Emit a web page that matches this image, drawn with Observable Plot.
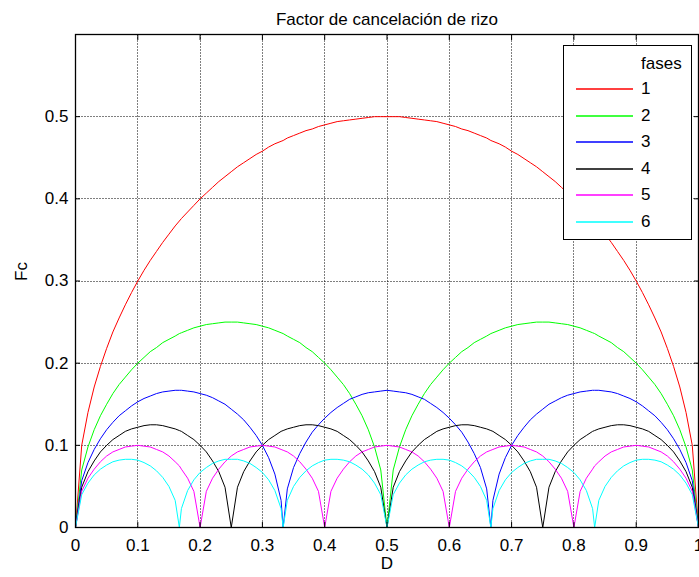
<!DOCTYPE html>
<html><head><meta charset="utf-8">
<script src="https://cdn.jsdelivr.net/npm/d3@7"></script>
<script src="https://cdn.jsdelivr.net/npm/@observablehq/plot@0.6"></script>
<style>
body{margin:0;background:#fff;}
#wrap{position:relative;width:699px;height:577px;overflow:hidden;font-family:"Liberation Sans",Arial,sans-serif;}
#legend{position:absolute;left:563px;top:45px;width:127px;height:193px;border:1.3px solid #000;background:#fff;font-size:17px;color:#000;}
#legend .ttl{position:absolute;left:77px;top:8px;line-height:20px;}
#legend .row{position:absolute;left:0;height:20px;line-height:20px;width:127px;}
#legend .row svg{position:absolute;left:12px;top:5px;}
#legend .row .lb{position:absolute;left:77px;top:0;}
.crisp path, .crisp line{shape-rendering:crispEdges;}
</style>
</head><body>
<div id="wrap"></div>
<script>
const title = "Factor de cancelación de rizo";
const xLabel = "D";
const yLabel = "Fc";
const legendTitle = "fases";
const phases = ["1","2","3","4","5","6"];
const colors = ["#ff0000","#00ff00","#0000ff","#000000","#ff00ff","#00ffff"];
const xTicks = [0,0.1,0.2,0.3,0.4,0.5,0.6,0.7,0.8,0.9,1];
const yTicks = [0,0.1,0.2,0.3,0.4,0.5];

const D = [0,.01,.02,.03,.04,.05,.06,.07,.08,.09,.10,.11,.12,.13,.14,.15,.16,.1667,.17,.18,.19,.20,.21,.22,.23,.24,.25,.26,.27,.28,.29,.30,.31,.32,.33,.3333,.34,.35,.36,.37,.38,.39,.40,.41,.42,.43,.44,.45,.46,.47,.48,.49,.50,.51,.52,.53,.54,.55,.56,.57,.58,.59,.60,.61,.62,.63,.64,.65,.66,.6667,.67,.68,.69,.70,.71,.72,.73,.74,.75,.76,.77,.78,.79,.80,.81,.82,.83,.8333,.84,.85,.86,.87,.88,.89,.90,.91,.92,.93,.94,.95,.96,.97,.98,.99,1];

const fc1 = [0,.100,.140,.171,.196,.218,.238,.255,.271,.286,.300,.313,.325,.336,.347,.357,.367,.373,
.376,.384,.392,.400,.407,.414,.421,.427,.433,.439,.444,.449,.454,.458,.463,.467,.470,.471,
.474,.477,.480,.483,.485,.488,.490,.492,.494,.495,.496,.497,.498,.499,.500,.500,.500,.500,.500,.499,.498,.497,.496,.495,.494,.492,.490,.488,.485,.483,.480,.477,.474,.471,
.470,.467,.463,.458,.454,.449,.444,.439,.433,.427,.421,.414,.407,.400,.392,.384,.376,.373,
.367,.357,.347,.336,.325,.313,.300,.286,.271,.255,.238,.218,.196,.171,.140,.100,0];

const fc2 = [0,.070,.098,.119,.136,.150,.163,.174,.183,.192,.200,.207,.214,.219,.225,.229,.233,.236,
.237,.240,.243,.245,.247,.248,.249,.250,.250,.250,.249,.248,.247,.245,.243,.240,.237,.236,
.233,.229,.225,.219,.214,.207,.200,.192,.183,.174,.163,.150,.136,.119,.098,.070,0,.070,.098,.119,.136,.150,.163,.174,.183,.192,.200,.207,.214,.219,.225,.229,.233,.236,
.237,.240,.243,.245,.247,.248,.249,.250,.250,.250,.249,.248,.247,.245,.243,.240,.237,.236,
.233,.229,.225,.219,.214,.207,.200,.192,.183,.174,.163,.150,.136,.119,.098,.070,0];

const fc3 = [0,.057,.079,.095,.108,.119,.128,.136,.142,.148,.153,.157,.160,.163,.165,.166,.167,.167,
.167,.166,.165,.163,.161,.158,.154,.150,.144,.138,.131,.122,.112,.100,.085,.065,.033,0,
.047,.073,.090,.104,.116,.125,.133,.140,.146,.151,.156,.159,.162,.164,.165,.166,.167,.166,.165,.164,.162,.159,.156,.151,.146,.140,.133,.125,.116,.104,.090,.073,.047,0,
.033,.065,.085,.100,.112,.122,.131,.138,.144,.150,.154,.158,.161,.163,.165,.166,.167,.167,
.167,.166,.165,.163,.160,.157,.153,.148,.142,.136,.128,.119,.108,.095,.079,.057,0];

const fc4 = [0,.049,.068,.081,.092,.100,.107,.112,.117,.120,.122,.124,.125,.125,.124,.122,.120,.118,
.117,.112,.107,.100,.092,.081,.068,.049,0,.049,.068,.081,.092,.100,.107,.112,.117,.118,
.120,.122,.124,.125,.125,.124,.122,.120,.117,.112,.107,.100,.092,.081,.068,.049,0,.049,.068,.081,.092,.100,.107,.112,.117,.120,.122,.124,.125,.125,.124,.122,.120,.118,
.117,.112,.107,.100,.092,.081,.068,.049,0,.049,.068,.081,.092,.100,.107,.112,.117,.118,
.120,.122,.124,.125,.125,.124,.122,.120,.117,.112,.107,.100,.092,.081,.068,.049,0];

const fc5 = [0,.044,.060,.071,.080,.087,.092,.095,.098,.099,.100,.099,.098,.095,.092,.087,.080,.075,
.071,.060,.044,0,.044,.060,.071,.080,.087,.092,.095,.098,.099,.100,.099,.098,.095,.094,
.092,.087,.080,.071,.060,.044,0,.044,.060,.071,.080,.087,.092,.095,.098,.099,.100,.099,.098,.095,.092,.087,.080,.071,.060,.044,0,.044,.060,.071,.080,.087,.092,.094,
.095,.098,.099,.100,.099,.098,.095,.092,.087,.080,.071,.060,.044,0,.044,.060,.071,.075,
.080,.087,.092,.095,.098,.099,.100,.099,.098,.095,.092,.087,.080,.071,.060,.044,0];

const fc6 = [0,.040,.054,.064,.071,.076,.080,.082,.083,.083,.082,.079,.075,.069,.061,.050,.033,0,
.023,.045,.058,.067,.073,.078,.081,.083,.083,.083,.081,.078,.073,.067,.058,.045,.023,0,
.033,.050,.061,.069,.075,.079,.082,.083,.083,.082,.080,.076,.071,.064,.054,.040,0,.040,.054,.064,.071,.076,.080,.082,.083,.083,.082,.079,.075,.069,.061,.050,.033,0,
.023,.045,.058,.067,.073,.078,.081,.083,.083,.083,.081,.078,.073,.067,.058,.045,.023,0,
.033,.050,.061,.069,.075,.079,.082,.083,.083,.082,.080,.076,.071,.064,.054,.040,0];

const series = [fc1, fc2, fc3, fc4, fc5, fc6];
const rows = [];
series.forEach((ys, i) => ys.forEach((v, j) => rows.push({D: D[j], Fc: v, fase: phases[i]})));

const font = "Liberation Sans, Arial, sans-serif";
const fmt = d => String(d);
const chart = Plot.plot({
  width: 699, height: 577,
  marginLeft: 75, marginRight: 1, marginTop: 34, marginBottom: 50,
  style: {fontFamily: font, fontSize: "17px", background: "#fff", color: "#000"},
  x: {domain: [0, 1], label: null},
  y: {domain: [0, 0.6], label: null},
  color: {domain: phases, range: colors},
  marks: [
    Plot.gridX(xTicks, {stroke: "#000", strokeOpacity: 0.5, strokeDasharray: "2,1", strokeWidth: 1, className: "crisp"}),
    Plot.gridY(yTicks, {stroke: "#000", strokeOpacity: 0.5, strokeDasharray: "2,1", strokeWidth: 1, className: "crisp"}),
    Plot.line(rows, {x: "D", y: "Fc", stroke: "fase", strokeWidth: 1}),
    Plot.frame({stroke: "#000", strokeWidth: 1.3}),
    Plot.axisX({ticks: xTicks, anchor: "bottom", tickSize: -5, tickPadding: 16, tickFormat: fmt, fontSize: 17, label: null}),
    Plot.axisX({ticks: xTicks, anchor: "top", tickSize: -5, tickFormat: () => "", label: null}),
    Plot.axisY({ticks: yTicks, anchor: "left", tickSize: -5, tickPadding: 12, tickFormat: fmt, fontSize: 17, label: null}),
    Plot.axisY({ticks: yTicks, anchor: "right", tickSize: -5, tickFormat: () => "", label: null}),
    Plot.text([title], {text: d => d, frameAnchor: "top", dy: -22, fontSize: 17}),
    Plot.text([xLabel], {text: d => d, frameAnchor: "bottom", dy: 41, fontSize: 17}),
    Plot.text([yLabel], {text: d => d, frameAnchor: "left", dx: -54, rotate: -90, fontSize: 17})
  ]
});
const wrap = document.getElementById("wrap");
wrap.appendChild(chart);

const svgNS = "http://www.w3.org/2000/svg";
const lg = document.createElement("div");
lg.id = "legend";
const t = document.createElement("div");
t.className = "ttl"; t.textContent = legendTitle;
lg.appendChild(t);
phases.forEach((p, i) => {
  const r = document.createElement("div");
  r.className = "row";
  r.style.top = Math.round(33 + 26.6 * i) + "px";
  const s = document.createElementNS(svgNS, "svg");
  s.setAttribute("width", "57"); s.setAttribute("height", "10");
  const l = document.createElementNS(svgNS, "line");
  l.setAttribute("x1", "0"); l.setAttribute("x2", "57");
  l.setAttribute("y1", "5"); l.setAttribute("y2", "5");
  l.setAttribute("stroke", colors[i]); l.setAttribute("stroke-width", "1.5");
  s.appendChild(l);
  const lb = document.createElement("div");
  lb.className = "lb"; lb.textContent = p;
  r.appendChild(s); r.appendChild(lb);
  lg.appendChild(r);
});
wrap.appendChild(lg);
</script>
</body></html>
